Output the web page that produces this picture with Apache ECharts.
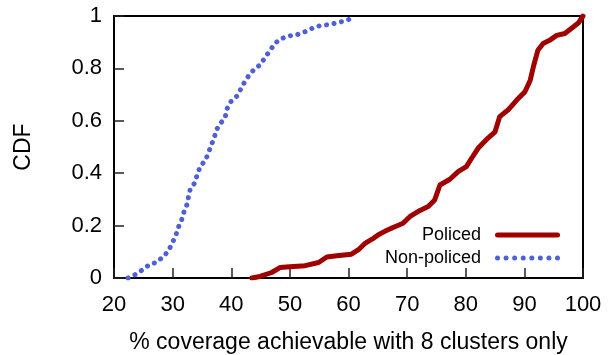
<!DOCTYPE html>
<html>
<head>
<meta charset="utf-8">
<script src="https://cdn.jsdelivr.net/npm/echarts@6/dist/echarts.min.js"></script>
<style>
  html, body { margin: 0; padding: 0; background: #fff; }
  #chart { width: 616px; height: 355px; }
</style>
</head>
<body>
<div id="chart"></div>
<script>
// CDF of achievable coverage with 8 clusters
const xTicks = { min: 20, max: 100, step: 10 };
const yTicks = { min: 0, max: 1, step: 0.2 };

const policedX = [43.5, 44.9, 46.9, 48.3, 50.0, 52.6, 54.9, 56.3, 58.0, 60.5, 61.7, 62.8, 64.1, 65.1, 66.2, 67.6, 69.3, 70.5, 72.2, 73.6, 74.7, 75.6, 77.3, 78.7, 80.1, 81.0, 82.1, 83.5, 85.0, 85.8, 87.2, 88.7, 90.1, 91.0, 91.6, 92.3, 93.2, 94.3, 95.5, 96.9, 98.0, 99.2, 100];
const policedY = [0, 0.006, 0.021, 0.04, 0.043, 0.047, 0.059, 0.08, 0.085, 0.091, 0.108, 0.132, 0.149, 0.165, 0.178, 0.193, 0.209, 0.235, 0.258, 0.273, 0.298, 0.355, 0.377, 0.406, 0.425, 0.457, 0.495, 0.528, 0.558, 0.616, 0.641, 0.679, 0.711, 0.755, 0.812, 0.869, 0.895, 0.907, 0.926, 0.933, 0.952, 0.973, 1.0];

const nonPolicedX = [22.4, 23.6, 24.9, 26.1, 27.3, 28.3, 29.3, 29.9, 30.5, 30.9, 31.5, 31.9, 32.4, 32.7, 33.0, 33.8, 34.2, 34.7, 35.6, 36.1, 36.6, 37.1, 37.5, 38.2, 39.0, 39.3, 40.0, 41.0, 41.6, 42.3, 43.0, 43.9, 45.0, 45.9, 46.6, 47.3, 48.3, 49.6, 51.1, 52.3, 53.7, 55.0, 56.5, 57.9, 59.1, 60.5, 61.0];
const nonPolicedY = [0, 0.013, 0.032, 0.052, 0.06, 0.08, 0.103, 0.133, 0.158, 0.19, 0.219, 0.25, 0.278, 0.309, 0.339, 0.364, 0.395, 0.425, 0.45, 0.478, 0.507, 0.536, 0.567, 0.59, 0.618, 0.647, 0.675, 0.695, 0.72, 0.749, 0.773, 0.796, 0.815, 0.847, 0.866, 0.892, 0.911, 0.923, 0.928, 0.937, 0.952, 0.962, 0.967, 0.973, 0.98, 0.99, 1.0];

const seriesNames = ['Policed', 'Non-policed'];
const xTitle = '% coverage achievable with 8 clusters only';
const yTitle = 'CDF';

const zip = (xs, ys) => xs.map((x, i) => [x, ys[i]]);
const FONT = 'Liberation Sans, Arial, sans-serif';

// legend keys: a solid rounded bar and a row of eight dots (65 x 5 box)
const solidKey = 'path://M2.5,0 L62.5,0 A2.5,2.5 0 0 1 62.5,5 L2.5,5 A2.5,2.5 0 0 1 2.5,0 Z';
let dotKey = 'path://';
for (let i = 0; i < 8; i++) {
  const cx = 2.5 + i * 8.57;
  dotKey += `M${cx - 2.5},2.5 A2.5,2.5 0 1 0 ${cx + 2.5},2.5 A2.5,2.5 0 1 0 ${cx - 2.5},2.5 Z `;
}

const chart = echarts.init(document.getElementById('chart'), null, { renderer: 'canvas' });

chart.setOption({
  animation: false,
  backgroundColor: '#fff',
  grid: {
    left: 114, top: 16, width: 469, height: 262,
    containLabel: false, outerBoundsMode: 'none',
    show: true, borderColor: '#000', borderWidth: 2, backgroundColor: 'transparent'
  },
  xAxis: {
    type: 'value',
    min: xTicks.min, max: xTicks.max, interval: xTicks.step,
    name: xTitle, nameLocation: 'middle', nameGap: 53,
    nameTextStyle: { fontFamily: FONT, fontSize: 23, color: '#000' },
    axisLine: { lineStyle: { color: '#000', width: 2 } },
    axisTick: { inside: true, length: 10, lineStyle: { color: '#222', width: 1.5 } },
    axisLabel: { fontFamily: FONT, fontSize: 22, color: '#000', margin: 16 },
    splitLine: { show: false }
  },
  yAxis: {
    type: 'value',
    min: yTicks.min, max: yTicks.max, interval: yTicks.step,
    name: yTitle, nameLocation: 'middle', nameGap: 79, nameRotate: 90,
    nameTextStyle: { fontFamily: FONT, fontSize: 23, color: '#000' },
    axisLine: { lineStyle: { color: '#000', width: 2 } },
    axisTick: { inside: true, length: 10, lineStyle: { color: '#222', width: 1.5 } },
    axisLabel: { fontFamily: FONT, fontSize: 22, color: '#000', margin: 12 },
    splitLine: { show: false }
  },
  legend: {
    orient: 'vertical',
    align: 'right',
    right: 51, top: 221,
    itemWidth: 65, itemHeight: 5, itemGap: 5,
    textStyle: { fontFamily: FONT, fontSize: 18, color: '#000', padding: [0, 9, 0, 0] },
    data: [
      { name: seriesNames[0], icon: solidKey },
      { name: seriesNames[1], icon: dotKey }
    ]
  },
  series: [
    {
      name: seriesNames[0],
      type: 'line',
      data: zip(policedX, policedY),
      symbol: 'none',
      lineStyle: { color: '#a00000', width: 5, cap: 'round', join: 'round' },
      itemStyle: { color: '#a00000' },
      z: 3
    },
    {
      name: seriesNames[1],
      type: 'line',
      data: zip(nonPolicedX, nonPolicedY),
      symbol: 'none',
      lineStyle: { color: '#4d60d8', width: 5, type: [0.1, 7.5], cap: 'round', join: 'round' },
      itemStyle: { color: '#4d60d8' },
      z: 2
    }
  ]
});
</script>
</body>
</html>
